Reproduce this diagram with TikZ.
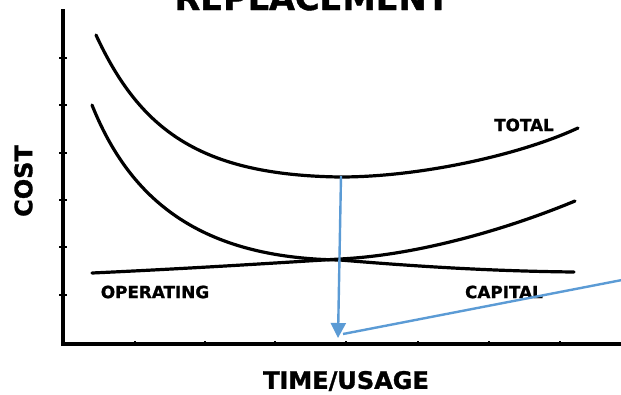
\documentclass[tikz,border=0pt]{standalone}
\usepackage{fontspec}
\setmainfont{DejaVu Sans}
\newfontfamily\heavyfont{DejaVu Sans Bold}[FakeBold=1.2]
\usetikzlibrary{arrows.meta}
\definecolor{arrowblue}{HTML}{5B9BD5}
\tikzset{
  curve/.style={line width=3.2pt, line join=round, line cap=round},
  axis/.style={line width=3.2pt},
  tickmark/.style={line width=2.8pt},
  lbl/.style={inner sep=0pt, font=\heavyfont\fontsize{16.8}{17}\selectfont},
  axlbl/.style={inner sep=0pt, font=\heavyfont\fontsize{24}{24}\selectfont},
  pointer/.style={draw=arrowblue, line width=2.4pt}
}
\begin{document}
\begin{tikzpicture}[x=1pt,y=-1pt]
\useasboundingbox (0,0) rectangle (621,394);
\clip (0,0) rectangle (621,394);
\fill[white] (0,0) rectangle (621,394);
% title
\node[anchor=base, inner sep=0pt, font=\heavyfont\fontsize{33.5}{34}\selectfont] (title) at (312,10) {REPLACEMENT};
% axes
\coordinate (ytop) at (63,11);
\coordinate (origin) at (63,344);
\coordinate (xend) at (621,344);
\draw[axis, line cap=rect] (ytop) -- (origin) -- (xend);
\foreach \y in {58,105,153,200,247,295} \draw[tickmark] (59,\y) -- (67,\y);
\foreach \x in {135,205,275,346,418,489,560} \draw[tickmark] (\x,344) -- (\x,340.5);
% curves
\draw[curve] (96,35) .. controls (140,130) and (200,175) .. (340,177)
  .. controls (420,177) and (520,155) .. (578,128);
\draw[curve] (92,105) .. controls (130,200) and (200,258) .. (340,260)
  .. controls (400,265) and (480,271) .. (574,272);
\draw[curve] (92,273) .. controls (200,268) and (290,262) .. (340,259)
  .. controls (420,255) and (510,228) .. (575,201);
% labels
\node[lbl] (total) at (524,125) {TOTAL};
\node[lbl] (operating) at (155,292) {OPERATING};
\node[lbl] (capital) at (504,292) {CAPITAL};
\node[axlbl] (xlabel) at (346,381) {TIME/USAGE};
\node[axlbl, rotate=90] (ylabel) at (23.5,181) {COST};
% blue pointers
\coordinate (tmin) at (341,176);
\coordinate (tip) at (338,338);
\coordinate (tail) at (343,334);
\coordinate (free) at (622,280);
\draw[pointer, -{Triangle[length=15pt, width=15pt]}] (tmin) -- (tip);
\draw[pointer] (tail) -- (free);
\end{tikzpicture}
\end{document}
